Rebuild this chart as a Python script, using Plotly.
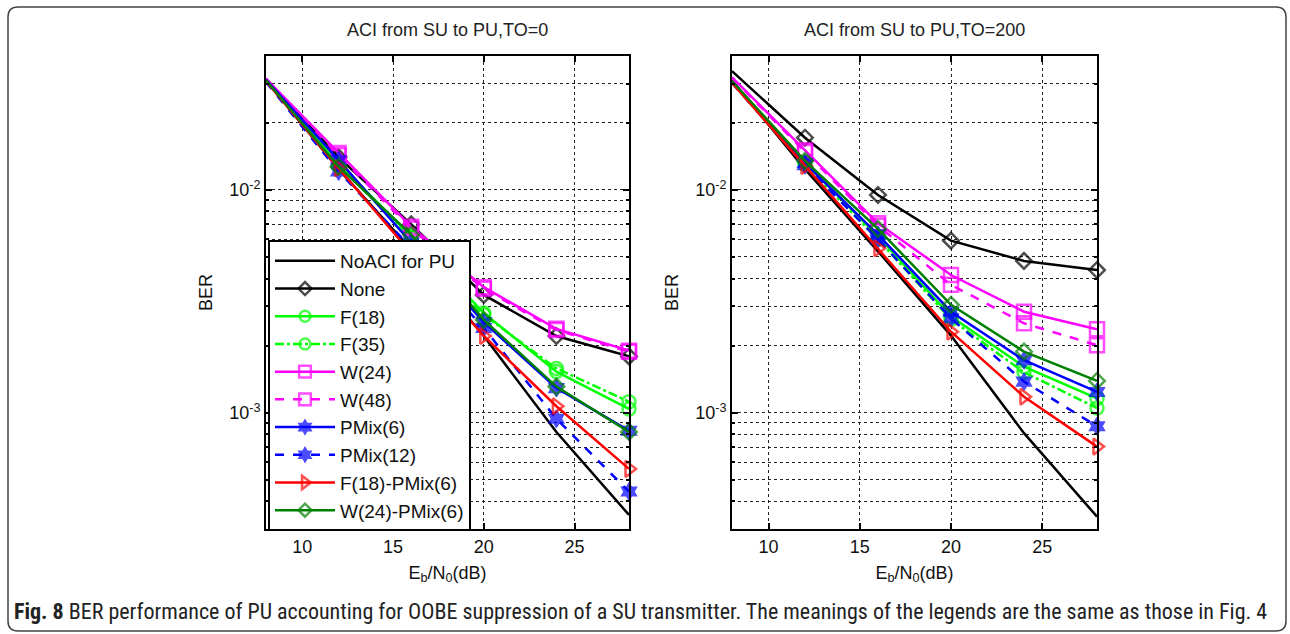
import plotly.graph_objects as go

# Eb/N0 sweep (dB)
ebn0 = [8, 12, 16, 20, 24, 28]

# BER, ACI from SU to PU, TO = 0
to0_noaci = [0.0310, 0.0124, 0.0054, 0.00221, 0.00082, 0.000348]
to0_none = [0.0315, 0.0140, 0.00700, 0.00338, 0.00221, 0.00179]
to0_f18 = [0.0310, 0.0131, 0.00620, 0.00280, 0.00153, 0.00104]
to0_f35 = [0.0310, 0.0129, 0.00610, 0.00275, 0.00158, 0.00112]
to0_w24 = [0.0315, 0.01463, 0.00684, 0.00366, 0.00238, 0.00190]
to0_w48 = [0.0315, 0.0143, 0.00670, 0.00360, 0.00235, 0.00188]
to0_pmix6 = [0.0312, 0.0136, 0.00580, 0.00255, 0.00129, 0.00083]
to0_pmix12 = [0.0305, 0.0121, 0.00550, 0.00240, 0.00094, 0.000443]
to0_f18pmix6 = [0.0308, 0.0125, 0.00520, 0.00221, 0.00107, 0.00056]
to0_w24pmix6 = [0.0310, 0.0127, 0.00630, 0.00261, 0.00131, 0.00082]

# BER, ACI from SU to PU, TO = 200
to200_noaci = [0.0310, 0.0124, 0.0053, 0.00222, 0.00081, 0.000342]
to200_none = [0.0341, 0.01714, 0.00949, 0.00592, 0.00480, 0.00437]
to200_f18 = [0.0305, 0.0133, 0.00620, 0.00270, 0.00161, 0.00116]
to200_f35 = [0.0303, 0.0130, 0.00600, 0.00262, 0.00152, 0.00105]
to200_w24 = [0.0320, 0.01506, 0.00708, 0.00415, 0.00284, 0.00237]
to200_w48 = [0.0318, 0.0148, 0.00690, 0.00375, 0.00252, 0.00201]
to200_pmix6 = [0.0306, 0.0132, 0.00630, 0.00284, 0.00172, 0.00124]
to200_pmix12 = [0.0302, 0.0129, 0.00600, 0.00265, 0.00138, 0.00087]
to200_f18pmix6 = [0.0302, 0.0128, 0.00547, 0.00231, 0.00118, 0.000705]
to200_w24pmix6 = [0.0308, 0.0135, 0.00668, 0.00305, 0.00188, 0.00139]

series_names = ["NoACI for PU", "None", "F(18)", "F(35)", "W(24)", "W(48)",
                "PMix(6)", "PMix(12)", "F(18)-PMix(6)", "W(24)-PMix(6)"]
left_values = [to0_noaci, to0_none, to0_f18, to0_f35, to0_w24, to0_w48,
               to0_pmix6, to0_pmix12, to0_f18pmix6, to0_w24pmix6]
right_values = [to200_noaci, to200_none, to200_f18, to200_f35, to200_w24, to200_w48,
                to200_pmix6, to200_pmix12, to200_f18pmix6, to200_w24pmix6]

# (colour, dash, marker symbol, marker size)
styles = [
    ("#000000", "solid", None, 0),
    ("#000000", "solid", "diamond-open", 12),
    ("#00ff00", "solid", "circle-open", 13),
    ("#00ff00", "dashdot", "circle-open", 13),
    ("#ff00ff", "solid", "square-open", 14),
    ("#ff00ff", "dash", "square-open", 14),
    ("#0000ff", "solid", "hexagram", 13),
    ("#0000ff", "dash", "hexagram", 13),
    ("#ff0000", "solid", "triangle-right-open", 14),
    ("#008000", "solid", "diamond-open", 12),
]

W, H = 1290, 634
FONT = "Liberation Sans, Arial, Helvetica, sans-serif"

fig = go.Figure()

for panel, (values, xa, ya) in enumerate([(left_values, "x", "y"), (right_values, "x2", "y2")]):
    for name, vals, (color, dash, symbol, msize) in zip(series_names, values, styles):
        if symbol is None:
            mode = "lines"
            marker = None
        else:
            mode = "lines+markers"
            lw = 1.5 if symbol == "hexagram" else 2.5
            # the first sample sits on the left axis edge and carries no marker
            marker = dict(symbol=symbol, size=[0] + [msize] * (len(ebn0) - 1),
                          color=color, line=dict(color=color, width=lw))
        fig.add_trace(go.Scatter(
            x=ebn0, y=vals, name=name, mode=mode,
            line=dict(color=color, width=2.5, dash=dash),
            marker=marker, xaxis=xa, yaxis=ya,
            showlegend=(panel == 0), cliponaxis=False,
        ))

ydom = [1 - 529.3 / H, 1 - 55.7 / H]
xdom_left = [266 / W, 629 / W]
xdom_right = [732 / W, 1097 / W]

minor_y = [m * 10 ** e for e in (-4, -3, -2) for m in range(2, 10)]
minor_y = [v for v in minor_y if 3e-4 <= v <= 4e-2]

def xaxis_cfg(domain, anchor):
    return dict(
        domain=domain, anchor=anchor, range=[8, 28],
        tickmode="array", tickvals=[10, 15, 20, 25],
        ticks="inside", ticklen=6, tickwidth=1.5, tickcolor="black",
        showline=True, linecolor="black", linewidth=2, mirror="ticks",
        showgrid=True, gridcolor="#222222", gridwidth=1, griddash="dot",
        zeroline=False,
        tickfont=dict(family=FONT, size=18, color="#111111"),
        title=dict(text="E<sub>b</sub>/N<sub>0</sub>(dB)",
                   font=dict(family=FONT, size=18, color="#111111"), standoff=10),
    )

def yaxis_cfg(anchor):
    return dict(
        domain=ydom, anchor=anchor, type="log",
        range=[-3.5229, -1.3979],
        tickmode="array", tickvals=[1e-3, 1e-2],
        ticktext=["10<sup>-3</sup>", "10<sup>-2</sup>"],
        ticks="inside", ticklen=6, tickwidth=1.5, tickcolor="black",
        showline=True, linecolor="black", linewidth=2, mirror="ticks",
        showgrid=True, gridcolor="#222222", gridwidth=1, griddash="dot",
        minor=dict(tickmode="array", tickvals=minor_y, ticks="inside", ticklen=3,
                   tickcolor="black", showgrid=True, gridcolor="#222222",
                   gridwidth=1, griddash="dot"),
        zeroline=False,
        tickfont=dict(family=FONT, size=18, color="#111111"),
        title=dict(text="BER", font=dict(family=FONT, size=18, color="#111111"),
                   standoff=12),
    )

fig.update_layout(
    width=W, height=H,
    margin=dict(l=0, r=0, t=0, b=0),
    paper_bgcolor="white", plot_bgcolor="white",
    font=dict(family=FONT, size=18, color="#111111"),
    xaxis=xaxis_cfg(xdom_left, "y"),
    yaxis=yaxis_cfg("x"),
    xaxis2=xaxis_cfg(xdom_right, "y2"),
    yaxis2=yaxis_cfg("x2"),
    legend=dict(
        x=268 / W, y=1 - 240 / H, xanchor="left", yanchor="top",
        bgcolor="white", bordercolor="black", borderwidth=2,
        font=dict(family=FONT, size=19, color="#111111"),
        itemwidth=60, tracegroupgap=0,
    ),
    showlegend=True,
)

annotations = [
    dict(text="ACI from SU to PU,TO=0", x=(266 + 629) / 2 / W, y=1 - 30 / H,
         xref="paper", yref="paper", showarrow=False, xanchor="center", yanchor="middle",
         font=dict(family=FONT, size=18, color="#222222")),
    dict(text="ACI from SU to PU,TO=200", x=(732 + 1097) / 2 / W, y=1 - 30 / H,
         xref="paper", yref="paper", showarrow=False, xanchor="center", yanchor="middle",
         font=dict(family=FONT, size=18, color="#222222")),
    dict(text="<b>Fig. 8</b> BER performance of PU accounting for OOBE suppression of a SU "
              "transmitter. The meanings of the legends are the same as those in Fig. 4",
         x=12 / W, y=1 - 611 / H, xref="paper", yref="paper", showarrow=False,
         xanchor="left", yanchor="middle",
         font=dict(family="Liberation Sans Narrow, Roboto Condensed, Liberation Sans, sans-serif",
                   size=22, color="#222222")),
]
fig.update_layout(annotations=annotations)

# rounded frame around the figure and caption
x0, x1 = 8 / W, 1286 / W
yt, yb = 1 - 7 / H, 1 - 631 / H
rx, ry = 10 / W, 10 / H
frame = (f"M{x0},{yt - ry} L{x0},{yb + ry} Q{x0},{yb} {x0 + rx},{yb} "
         f"L{x1 - rx},{yb} Q{x1},{yb} {x1},{yb + ry} L{x1},{yt - ry} "
         f"Q{x1},{yt} {x1 - rx},{yt} L{x0 + rx},{yt} Q{x0},{yt} {x0},{yt - ry} Z")
fig.add_shape(type="path", path=frame, xref="paper", yref="paper",
              line=dict(color="#444444", width=1.5), layer="below")

fig.write_html("out.html")
